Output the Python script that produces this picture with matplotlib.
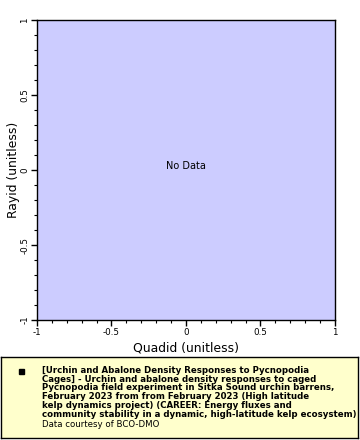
import matplotlib
matplotlib.use("Agg")
import matplotlib.pyplot as plt
from matplotlib.ticker import MultipleLocator

# Data (no data points in the reference)
quadid = []
rayid = []
x_ticks = [-1, -0.5, 0, 0.5, 1]
x_tick_labels = ["-1", "-0.5", "0", "0.5", "1"]
y_ticks = [-1, -0.5, 0, 0.5, 1]
y_tick_labels = ["-1", "-0.5", "0", "0.5", "1"]
x_label = "Quadid (unitless)"
y_label = "Rayid (unitless)"
legend_title = ("[Urchin and Abalone Density Responses to Pycnopodia\n"
                "Cages] - Urchin and abalone density responses to caged\n"
                "Pycnopodia field experiment in Sitka Sound urchin barrens,\n"
                "February 2023 from from February 2023 (High latitude\n"
                "kelp dynamics project) (CAREER: Energy fluxes and\n"
                "community stability in a dynamic, high-latitude kelp ecosystem)")
credit = "Data courtesy of BCO-DMO"

fig = plt.figure(figsize=(3.6, 4.4), dpi=100)
ax = fig.add_axes([37/360, 1-320/440, 298/360, 300/440])
ax.set_facecolor("#CCCCFF")
ax.plot(quadid, rayid, "s", color="black")
ax.set_xlim(-1, 1)
ax.set_ylim(-1, 1)
ax.set_xticks(x_ticks)
ax.set_xticklabels(x_tick_labels, fontsize=6.3)
ax.set_yticks(y_ticks)
ax.set_yticklabels(y_tick_labels, fontsize=6.3, rotation=90, va="center")
ax.xaxis.set_minor_locator(MultipleLocator(0.1))
ax.yaxis.set_minor_locator(MultipleLocator(0.1))
ax.tick_params(which="major", length=4, width=1, pad=1.5)
ax.tick_params(which="minor", length=2, width=0.8)
ax.set_xlabel(x_label, fontsize=8.9, va="center")
ax.set_ylabel(y_label, fontsize=8.9, va="center")
ax.xaxis.set_label_coords(0.5, (320-348)/300)
ax.yaxis.set_label_coords((14-37)/298, 0.5)
for s in ax.spines.values():
    s.set_linewidth(1)
ax.text(0.5, 0.513, "No Data", ha="center", va="center", fontsize=7,
        transform=ax.transAxes)

# Legend box
lax = fig.add_axes([1/360, 1-438/440, 357/360, 81/440])
lax.set_xlim(0, 357)
lax.set_ylim(81, 0)
lax.set_facecolor("#FFFFCC")
lax.set_xticks([])
lax.set_yticks([])
for s in lax.spines.values():
    s.set_linewidth(1)
lax.plot([20], [14], "s", color="black", markersize=3.6)
lax.text(41, 9, legend_title, fontsize=6.2, fontweight="bold", va="top", ha="left",
         linespacing=0.96)
lax.text(41, 67, credit, fontsize=6.2, va="center", ha="left")

fig.savefig("out.png", dpi=100)
